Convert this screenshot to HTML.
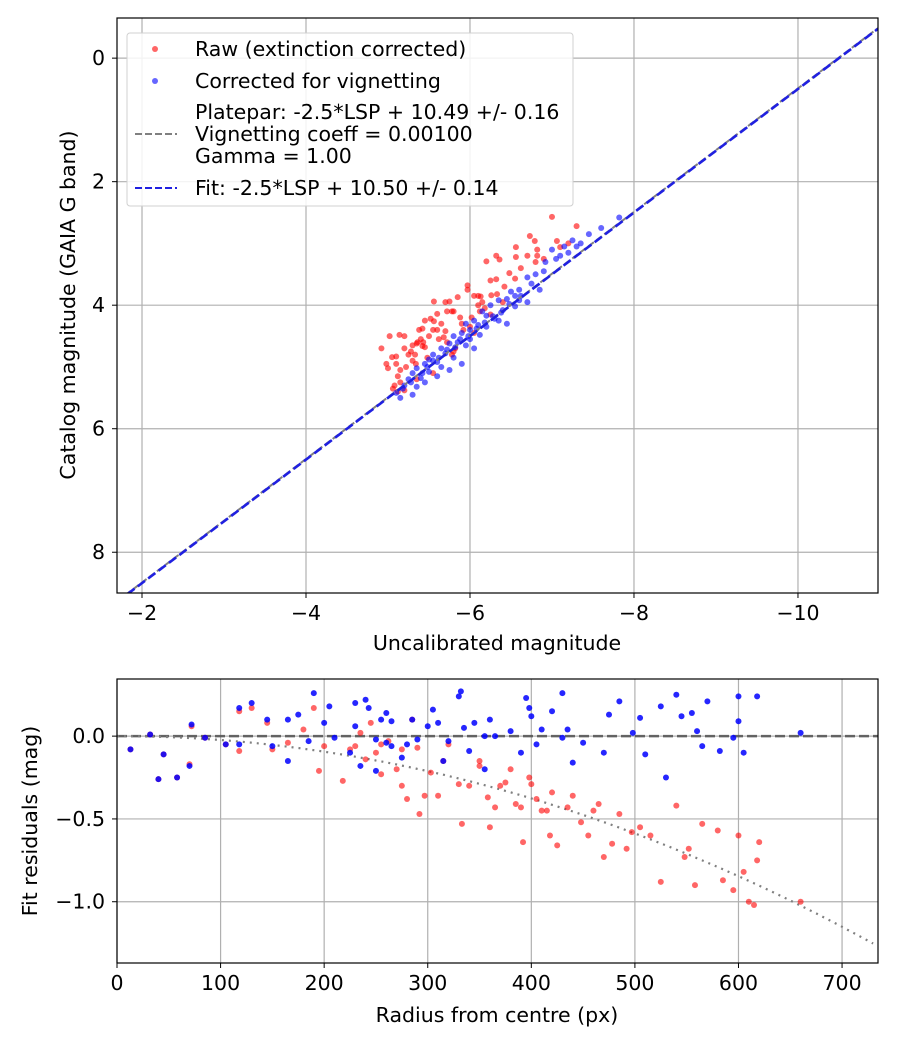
<!DOCTYPE html>
<html><head><meta charset="utf-8"><style>
html,body{margin:0;padding:0;background:#fff}
svg{display:block;font-family:"DejaVu Sans","Liberation Sans",sans-serif}
</style></head><body>
<svg id="c" width="900" height="1050" xmlns="http://www.w3.org/2000/svg"></svg>
<script>
// ---- top chart data ----
const topRawX=[-7.0,-7.3,-6.73,-6.79,-7.06,-7.1,-6.56,-6.82,-6.82,-6.32,-6.36,-6.56,-6.2,-6.8,-6.48,-6.55,-6.25,-6.32,-5.97,-5.97,-5.85,-6.05,-6.1,-6.13,-6.26,-6.33,-5.56,-5.7,-5.75,-5.8,-5.72,-5.78,-5.6,-6.1,-6.12,-5.45,-5.52,-5.56,-5.38,-5.42,-5.55,-5.6,-5.7,-5.02,-5.14,-5.2,-5.4,-5.36,-5.43,-4.92,-5.05,-5.1,-5.3,-5.35,-5.42,-5.1,-4.98,-5.0,-5.3,-5.34,-5.8,-5.82,-5.72,-5.06,-5.12,-5.2,-5.12,-5.15,-5.9,-6.0,-6.4,-5.65,-5.25,-5.5,-5.2,-5.28,-5.33,-5.45,-5.48,-5.62,-5.68,-5.88,-5.92,-6.02,-6.15,-6.18,-6.42,-6.62,-6.7,-5.15,-5.22,-5.08,-5.35,-5.55,-5.78,-6.05,-6.25,-6.9,-7.2];
const topRawY=[2.57,2.72,2.88,2.96,2.96,3.06,3.06,3.1,3.2,3.2,3.26,3.22,3.29,3.3,3.48,3.57,3.6,3.58,3.68,3.75,3.87,3.85,3.85,3.86,3.84,3.82,3.94,3.95,3.94,4.1,4.1,4.1,4.14,4.0,4.1,4.25,4.22,4.26,4.4,4.38,4.4,4.4,4.42,4.5,4.48,4.5,4.55,4.6,4.6,4.7,4.84,4.83,4.65,4.62,4.66,4.95,4.95,5.02,4.9,4.95,4.75,4.7,4.6,5.35,5.4,5.38,5.15,5.25,4.3,4.35,3.95,4.3,4.8,4.5,4.7,4.75,4.8,4.68,4.85,4.55,4.52,4.2,4.4,4.2,3.95,4.05,3.7,3.4,3.2,5.05,5.0,5.3,5.2,5.1,4.8,4.45,4.15,3.25,3.0];
const topCorX=[-7.82,-7.6,-7.45,-7.25,-7.3,-7.15,-7.2,-7.0,-7.05,-6.92,-6.8,-6.7,-6.75,-6.85,-6.6,-6.5,-6.55,-6.45,-6.35,-6.6,-6.25,-6.4,-6.15,-6.2,-6.3,-6.05,-6.1,-5.95,-6.2,-6.0,-5.9,-6.12,-5.8,-6.0,-5.85,-5.75,-5.95,-5.65,-5.7,-5.55,-5.8,-5.5,-5.6,-5.45,-5.65,-5.35,-5.5,-5.3,-5.4,-5.25,-5.2,-5.35,-5.1,-5.3,-5.15,-5.45,-5.6,-6.35,-6.55,-6.7,-6.45,-5.9,-6.05,-5.75,-5.55,-5.62,-5.72,-5.82,-5.88,-5.98,-6.08,-6.18,-6.28,-6.38,-6.48,-5.42,-5.48,-5.28,-5.18,-7.1,-7.35,-6.62,-6.9];
const topCorY=[2.58,2.75,2.85,2.95,3.05,3.05,3.15,3.1,3.25,3.3,3.5,3.55,3.65,3.75,3.75,3.78,3.85,3.9,3.92,3.92,4.0,4.08,4.1,4.17,4.22,4.25,4.32,4.3,4.35,4.4,4.45,4.48,4.5,4.55,4.6,4.62,4.65,4.7,4.78,4.8,4.85,4.88,4.92,4.95,5.0,5.02,5.08,5.1,5.18,5.2,5.3,5.32,5.42,5.45,5.5,5.25,5.15,4.25,4.02,3.95,4.3,4.95,4.7,5.05,4.9,4.85,4.72,4.68,4.55,4.5,4.38,4.28,4.18,4.12,3.98,5.1,5.0,5.25,5.35,3.2,3.0,3.85,3.45];
const fitIntercept=10.50;
const topXTicks=[-2,-4,-6,-8,-10];
const topYTicks=[0,2,4,6,8];
// ---- bottom chart data ----
const botRawR=[13,32,45,40,58,70,72,85,105,118,118,130,145,150,165,180,190,200,195,218,230,235,240,245,250,255,262,270,275,280,285,290,292,297,303,310,315,330,333,340,350,358,360,365,375,385,390,392,398,405,410,415,418,425,435,448,455,465,470,478,485,492,497,505,515,525,540,548,552,558,565,580,585,595,600,605,610,615,618,620,660,275,320,380,400,420,440,460,350,370,225,255];
const botRawRes=[-0.08,0.01,-0.11,-0.26,-0.25,-0.17,0.06,-0.01,-0.05,-0.09,0.15,0.17,0.08,-0.08,-0.04,0.04,0.17,-0.06,-0.21,-0.27,-0.06,0.02,-0.14,0.08,-0.1,-0.23,-0.03,-0.2,-0.3,-0.38,0.1,-0.07,-0.47,-0.36,-0.22,-0.36,-0.15,-0.29,-0.53,-0.3,-0.15,-0.37,-0.55,-0.43,-0.28,-0.41,-0.43,-0.64,-0.25,-0.38,-0.45,-0.45,-0.6,-0.66,-0.43,-0.52,-0.6,-0.41,-0.73,-0.65,-0.47,-0.68,-0.58,-0.55,-0.6,-0.88,-0.42,-0.73,-0.68,-0.9,-0.53,-0.57,-0.87,-0.93,-0.6,-0.82,-1.0,-1.02,-0.75,-0.64,-1.0,-0.08,-0.05,-0.2,-0.29,-0.34,-0.36,-0.45,-0.18,-0.3,-0.08,-0.05];
const botCorR=[13,32,45,40,58,70,72,85,105,118,118,130,145,150,165,165,175,185,190,200,205,210,225,230,235,240,243,250,255,260,265,275,285,290,300,305,315,320,330,332,335,340,345,355,360,365,380,390,395,398,400,405,410,420,430,430,435,440,450,470,475,485,498,505,510,525,530,540,545,555,560,565,570,582,595,600,600,605,618,660,260,230,265,310,355,250,280];
const botCorRes=[-0.08,0.01,-0.11,-0.26,-0.25,-0.18,0.07,-0.01,-0.05,-0.05,0.17,0.2,0.1,-0.06,-0.15,0.1,0.13,-0.03,0.26,0.08,0.18,-0.01,-0.1,0.2,-0.18,0.22,0.17,-0.02,0.1,0.14,-0.06,-0.13,0.1,-0.02,0.06,0.16,-0.15,-0.03,0.24,0.27,0.05,-0.09,0.08,-0.2,0.1,0.0,0.03,-0.1,0.23,0.17,0.12,-0.05,0.04,0.15,-0.01,0.26,0.04,-0.16,-0.04,-0.1,0.13,0.21,0.02,0.11,-0.11,0.18,-0.25,0.25,0.12,0.14,0.03,-0.06,0.21,-0.09,-0.01,0.24,0.09,-0.1,0.24,0.02,-0.04,0.06,0.09,0.08,0.0,-0.21,-0.05];
const vignCoeff=2.35e-6;
const botXTicks=[0,100,200,300,400,500,600,700];
const botYTicks=[0.0,-0.5,-1.0];

const FS=20.5;
const NS="http://www.w3.org/2000/svg";
const svg=document.getElementById('c');
function mk(tag,attrs,parent){const e=document.createElementNS(NS,tag);for(const k in attrs)e.setAttribute(k,attrs[k]);(parent||svg).appendChild(e);return e;}
function txt(s,attrs,parent){const e=mk('text',attrs,parent);e.textContent=s;return e;}

const T={l:117,r:878,t:18,b:593,x0:-1.695,x1:-10.976,y0:-0.65,y1:8.66};
const tx=v=>T.l+(v-T.x0)/(T.x1-T.x0)*(T.r-T.l);
const ty=v=>T.t+(v-T.y0)/(T.y1-T.y0)*(T.b-T.t);
const B={l:117,r:878,t:679,b:963,x0:0,x1:734.7,y0:0.345,y1:-1.37};
const bx=v=>B.l+(v-B.x0)/(B.x1-B.x0)*(B.r-B.l);
const by=v=>B.t+(v-B.y0)/(B.y1-B.y0)*(B.b-B.t);

function clip(id,A){const d=mk('defs',{});const c=mk('clipPath',{id:id},d);mk('rect',{x:A.l,y:A.t,width:A.r-A.l,height:A.b-A.t},c);}
clip('ct',T);clip('cb',B);

function fmt(v){return (v<0?'\u2212':'')+Math.abs(v).toString();}
function fmt1(v){return (v<0?'\u2212':'')+Math.abs(v).toFixed(1);}

// ---- top chart ----
const gt=mk('g',{});


const gridT=mk('g',{},gt);


topXTicks.forEach(v=>{const x=tx(v);mk('line',{x1:x,x2:x,y1:T.t,y2:T.b,stroke:'#b0b0b0','stroke-width':1.2},gridT);
 mk('line',{x1:x,x2:x,y1:T.b,y2:T.b+5,stroke:'#000','stroke-width':1},gt);
 const l=txt(fmt(v),{x:x,y:T.b+27,'text-anchor':'middle','font-size':FS},gt);
 
 });
topYTicks.forEach(v=>{const y=ty(v);mk('line',{x1:T.l,x2:T.r,y1:y,y2:y,stroke:'#b0b0b0','stroke-width':1.2},gridT);
 mk('line',{x1:T.l-5,x2:T.l,y1:y,y2:y,stroke:'#000','stroke-width':1},gt);
 const l=txt(fmt(v),{x:T.l-12,y:y+7,'text-anchor':'end','font-size':FS},gt);
 
 });
const pt=mk('g',{'clip-path':'url(#ct)'},gt);
topRawX.forEach((v,i)=>{const c=mk('circle',{cx:tx(v),cy:ty(topRawY[i]),r:3,fill:'#ff0000','fill-opacity':0.6},pt);
 
 });
topCorX.forEach((v,i)=>{const c=mk('circle',{cx:tx(v),cy:ty(topCorY[i]),r:3,fill:'#0000ff','fill-opacity':0.6},pt);
 
 });
const pl=mk('line',{x1:tx(T.x0),y1:ty(T.x0+10.49),x2:tx(T.x1),y2:ty(T.x1+10.49),stroke:'#808080','stroke-width':2,'stroke-dasharray':'7,3'},pt);


const fl=mk('line',{x1:tx(T.x0),y1:ty(T.x0+fitIntercept),x2:tx(T.x1),y2:ty(T.x1+fitIntercept),stroke:'#2020e0','stroke-width':2.6,'stroke-dasharray':'9,4'},pt);


mk('rect',{x:T.l,y:T.t,width:T.r-T.l,height:T.b-T.t,fill:'none',stroke:'#000','stroke-width':1.2},gt);
const xl=txt('Uncalibrated magnitude',{x:497,y:650,'text-anchor':'middle','font-size':FS},gt);


const yl=txt('Catalog magnitude (GAIA G band)',{x:0,y:0,'text-anchor':'middle','font-size':FS,transform:'translate(75,305) rotate(-90)'},gt);



// legend
const lg=mk('g',{},gt);


mk('rect',{x:127,y:33,width:446,height:173,rx:3,fill:'#fff','fill-opacity':0.85,stroke:'#d0d0d0','stroke-width':1},lg);
function entry(name,draw,lines,y0){const g=mk('g',{},lg);draw(g);lines.forEach((s,i)=>txt(s,{x:195,y:y0+i*22,'font-size':FS},g));}
entry('legend-raw',g=>mk('circle',{cx:155,cy:49,r:3,fill:'#ff0000','fill-opacity':0.6},g),['Raw (extinction corrected)'],56);
entry('legend-corrected',g=>mk('circle',{cx:155,cy:81,r:3,fill:'#0000ff','fill-opacity':0.6},g),['Corrected for vignetting'],88);
entry('legend-platepar',g=>mk('line',{x1:135,x2:177,y1:134,y2:134,stroke:'#808080','stroke-width':2,'stroke-dasharray':'7,3'},g),['Platepar: -2.5*LSP + 10.49 +/- 0.16','Vignetting coeff = 0.00100','Gamma = 1.00'],119);
entry('legend-fit',g=>mk('line',{x1:135,x2:177,y1:188,y2:188,stroke:'#2020e0','stroke-width':2,'stroke-dasharray':'7,3'},g),['Fit: -2.5*LSP + 10.50 +/- 0.14'],195);

// ---- bottom chart ----
const gb=mk('g',{});


botXTicks.forEach(v=>{const x=bx(v);mk('line',{x1:x,x2:x,y1:B.t,y2:B.b,stroke:'#b0b0b0','stroke-width':1.2},gb);
 mk('line',{x1:x,x2:x,y1:B.b,y2:B.b+5,stroke:'#000','stroke-width':1},gb);
 const l=txt(String(v),{x:x,y:B.b+27,'text-anchor':'middle','font-size':FS},gb);
 
 });
botYTicks.forEach(v=>{const y=by(v);mk('line',{x1:B.l,x2:B.r,y1:y,y2:y,stroke:'#b0b0b0','stroke-width':1.2},gb);
 mk('line',{x1:B.l-5,x2:B.l,y1:y,y2:y,stroke:'#000','stroke-width':1},gb);
 const l=txt(fmt1(v),{x:B.l-12,y:y+7,'text-anchor':'end','font-size':FS},gb);
 
 });
const pb=mk('g',{'clip-path':'url(#cb)'},gb);
const zl=mk('line',{x1:B.l,x2:B.r,y1:by(0),y2:by(0),stroke:'#505050','stroke-width':2.4,'stroke-dasharray':'10,4','stroke-opacity':0.85},pb);


let d='';for(let r=0;r<=B.x1;r+=5){d+=(r?'L':'M')+bx(r).toFixed(1)+','+by(-vignCoeff*r*r).toFixed(1);}
const vc=mk('path',{d:d,fill:'none',stroke:'#808080','stroke-width':2.2,'stroke-dasharray':'2,5'},pb);


botRawR.forEach((v,i)=>{const c=mk('circle',{cx:bx(v),cy:by(botRawRes[i]),r:3,fill:'#ff0000','fill-opacity':0.6},pb);
 
 });
botCorR.forEach((v,i)=>{const c=mk('circle',{cx:bx(v),cy:by(botCorRes[i]),r:3,fill:'#0000ff','fill-opacity':0.85},pb);
 
 });
mk('rect',{x:B.l,y:B.t,width:B.r-B.l,height:B.b-B.t,fill:'none',stroke:'#000','stroke-width':1.2},gb);
const bxl=txt('Radius from centre (px)',{x:497,y:1022,'text-anchor':'middle','font-size':FS},gb);


const byl=txt('Fit residuals (mag)',{x:0,y:0,'text-anchor':'middle','font-size':FS,transform:'translate(37,821) rotate(-90)'},gb);


</script>
</body></html>
